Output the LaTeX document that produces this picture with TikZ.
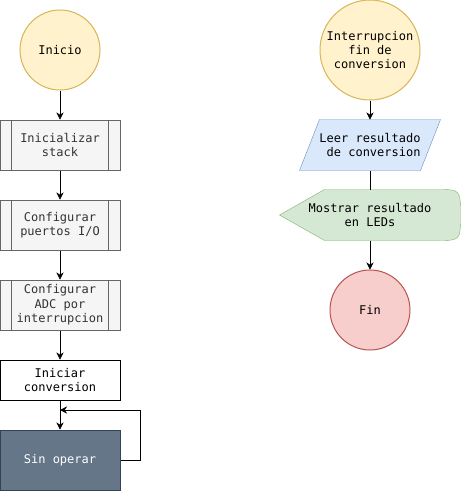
\documentclass[tikz,border=0pt]{standalone}
\usepackage{fontspec}
\setmonofont{DejaVu Sans Mono}
\usetikzlibrary{arrows.meta,backgrounds}
\definecolor{yfill}{HTML}{FFF2CC}
\definecolor{ydraw}{HTML}{D6B656}
\definecolor{gfill}{HTML}{F5F5F5}
\definecolor{gdraw}{HTML}{666666}
\definecolor{gtext}{HTML}{333333}
\definecolor{bfill}{HTML}{DAE8FC}
\definecolor{bdraw}{HTML}{6C8EBF}
\definecolor{nfill}{HTML}{D5E8D4}
\definecolor{ndraw}{HTML}{82B366}
\definecolor{rfill}{HTML}{F8CECC}
\definecolor{rdraw}{HTML}{B85450}
\definecolor{sfill}{HTML}{647687}
\definecolor{sdraw}{HTML}{314354}
\begin{document}
\begin{tikzpicture}[x=1pt,y=-1pt,line width=1pt,font=\ttfamily\fontsize{12}{14.4}\selectfont]
\tikzstyle{term}=[circle,draw=ydraw,fill=yfill,align=center,inner sep=0pt]
\tikzstyle{proc}=[rectangle,draw=gdraw,fill=gfill,text=gtext,align=center,minimum width=120,minimum height=50,inner sep=0pt]
\tikzstyle{plain}=[rectangle,draw=black,fill=white,align=center,minimum width=120,minimum height=40,inner sep=0pt]
\tikzstyle{idle}=[rectangle,draw=sdraw,fill=sfill,text=white,align=center,minimum width=120,minimum height=60,inner sep=0pt]
\tikzstyle{io}=[rectangle,align=center,inner sep=0pt,minimum height=50]
\tikzstyle{arr}=[-{Stealth[length=7pt,width=7pt]}]
\useasboundingbox (0,0) rectangle (461,491);
\node [term,minimum size=80] (inicio) at (60,50) {Inicio};
\node [proc] (stack) at (60,145) {Inicializar\\stack};
\node [proc] (puertos) at (60,225) {Configurar\\puertos I/O};
\node [proc] (adc) at (60,305) {Configurar\\ADC por\\interrupcion};
\node [plain] (conv) at (60,380) {Iniciar\\conversion};
\node [idle] (sinop) at (60,460) {Sin operar};
\coordinate (loop) at (60,410);
\foreach \n in {stack,puertos,adc}
  \draw [gdraw] ([xshift=12]\n.north west) -- ([xshift=12]\n.south west)
    ([xshift=-12]\n.north east) -- ([xshift=-12]\n.south east);
\node [term,minimum size=100] (irq) at (370,50) {Interrupcion\\fin de\\conversion};
\node [io,minimum width=140] (leer) at (370,145) {Leer resultado\\~de conversion};
\node [io,minimum width=180] (leds) at (370,215) {Mostrar resultado\\en LEDs};
\node [circle,draw=rdraw,fill=rfill,minimum size=80,inner sep=0pt] (fin) at (370,310) {Fin};
\begin{pgfonlayer}{background}
\filldraw [draw=bdraw,fill=bfill] ([xshift=20]leer.north west) -- (leer.north east)
  -- ([xshift=-20]leer.south east) -- (leer.south west) -- cycle;
\filldraw [draw=ndraw,fill=nfill] (leds.west) -- ([xshift=45]leds.north west)
  -- ([xshift=-23]leds.north east) .. controls (leds.north east) .. (leds.east)
  .. controls (leds.south east) .. ([xshift=-23]leds.south east)
  -- ([xshift=45]leds.south west) -- cycle;
\end{pgfonlayer}
\draw [arr] (inicio) -- (stack);
\draw [arr] (stack) -- (puertos);
\draw [arr] (puertos) -- (adc);
\draw [arr] (adc) -- (conv);
\draw [arr] (conv) -- (sinop);
\draw [arr] (sinop.east) -- ++(20,0) |- (loop);
\draw [arr] (irq) -- (leer);
\draw (leer.south) -- (leds.north);
\draw [arr] (leds) -- (fin);
\end{tikzpicture}
\end{document}
